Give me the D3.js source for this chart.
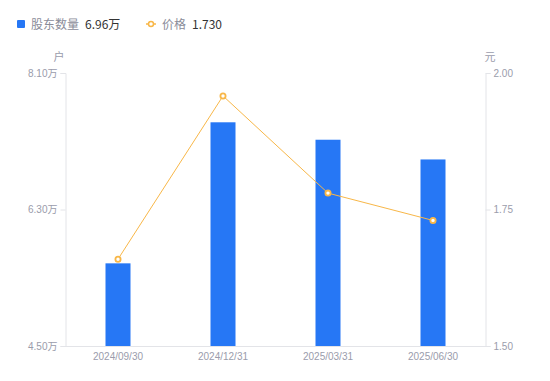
<!DOCTYPE html>
<html>
<head>
<meta charset="utf-8">
<script src="https://cdn.jsdelivr.net/npm/d3@7"></script>
<style>
  body { margin: 0; background: #fff; }
  text { font-family: "Noto Sans CJK SC", "Noto Sans", sans-serif; }
</style>
</head>
<body>
<div id="chart"></div>
<script>
// Data
const dates = ["2024/09/30", "2024/12/31", "2025/03/31", "2025/06/30"];
const holders = [5.59, 7.45, 7.22, 6.96];   // 万户
const prices = [1.659, 1.958, 1.780, 1.730]; // 元
const leftTicks = [4.5, 6.3, 8.1];
const rightTicks = [1.5, 1.75, 2.0];

const W = 550, H = 381;
const plotLeft = 65.5, plotRight = 485.5, plotTop = 73, plotBottom = 346;

const svg = d3.select("#chart").append("svg")
  .attr("width", W).attr("height", H);

// Scales
const x = d3.scaleBand().domain(dates).range([plotLeft, plotRight]);
const yL = d3.scaleLinear().domain([4.5, 8.1]).range([plotBottom, plotTop]);
const yR = d3.scaleLinear().domain([1.5, 2.0]).range([plotBottom, plotTop]);

const axisColor = "#e3e4e8";
const labelColor = "#9a9cab";

// Left axis
const gL = svg.append("g").attr("transform", `translate(${plotLeft},0)`)
  .call(d3.axisLeft(yL).tickValues(leftTicks).tickSize(5).tickPadding(3)
    .tickFormat(d => d.toFixed(2) + "万"));
// Right axis
const gR = svg.append("g").attr("transform", `translate(${plotRight},0)`)
  .call(d3.axisRight(yR).tickValues(rightTicks).tickSize(5).tickPadding(3)
    .tickFormat(d => d.toFixed(2)));
// Bottom axis
const gB = svg.append("g").attr("transform", `translate(0,${plotBottom})`)
  .call(d3.axisBottom(x).tickSize(0).tickPadding(7));

[gL, gR, gB].forEach(g => {
  g.select(".domain").attr("stroke", axisColor);
  g.selectAll(".tick line").attr("stroke", axisColor);
  g.selectAll("text").attr("fill", labelColor).style("font-size", "10px")
    .style("font-family", "'Liberation Sans', 'Noto Sans CJK SC', sans-serif");
});

// Unit labels
svg.append("text").attr("x", 59).attr("y", 61).attr("text-anchor", "middle")
  .attr("fill", labelColor).style("font-size", "11px").text("户");
svg.append("text").attr("x", 490).attr("y", 61).attr("text-anchor", "middle")
  .attr("fill", labelColor).style("font-size", "11px").text("元");

// Bars
const barW = 25;
svg.selectAll("rect.bar")
  .data(holders)
  .join("rect")
  .attr("class", "bar")
  .attr("x", (d, i) => x(dates[i]) + x.bandwidth() / 2 - barW / 2)
  .attr("y", d => yL(d))
  .attr("width", barW)
  .attr("height", d => plotBottom - yL(d))
  .attr("fill", "#2677f5");

// Price line
const lineColor = "#f8b748";
const line = d3.line()
  .x((d, i) => x(dates[i]) + x.bandwidth() / 2)
  .y(d => yR(d));
svg.append("path").datum(prices)
  .attr("d", line)
  .attr("fill", "none")
  .attr("stroke", lineColor)
  .attr("stroke-width", 1);
svg.selectAll("circle.pt")
  .data(prices)
  .join("circle")
  .attr("class", "pt")
  .attr("cx", (d, i) => x(dates[i]) + x.bandwidth() / 2)
  .attr("cy", d => yR(d))
  .attr("r", 2.6)
  .attr("fill", "#fff")
  .attr("stroke", lineColor)
  .attr("stroke-width", 1.8);

// Legend
const lg = svg.append("g");
lg.append("rect").attr("x", 17).attr("y", 20).attr("width", 8).attr("height", 8)
  .attr("rx", 1).attr("fill", "#2677f5");
lg.append("text").attr("x", 31).attr("y", 28.5).attr("fill", "#8a8c99")
  .style("font-size", "12px").text("股东数量");
lg.append("text").attr("x", 85).attr("y", 28.5).attr("fill", "#333")
  .style("font-size", "12px").text("6.96万");
lg.append("line").attr("x1", 146).attr("x2", 156).attr("y1", 24).attr("y2", 24)
  .attr("stroke", lineColor).attr("stroke-width", 1.5);
lg.append("circle").attr("cx", 151).attr("cy", 24).attr("r", 2.5)
  .attr("fill", "#fff").attr("stroke", lineColor).attr("stroke-width", 1.5);
lg.append("text").attr("x", 162).attr("y", 28.5).attr("fill", "#8a8c99")
  .style("font-size", "12px").text("价格");
lg.append("text").attr("x", 192).attr("y", 28.5).attr("fill", "#333")
  .style("font-size", "12px").text("1.730");
</script>
</body>
</html>
